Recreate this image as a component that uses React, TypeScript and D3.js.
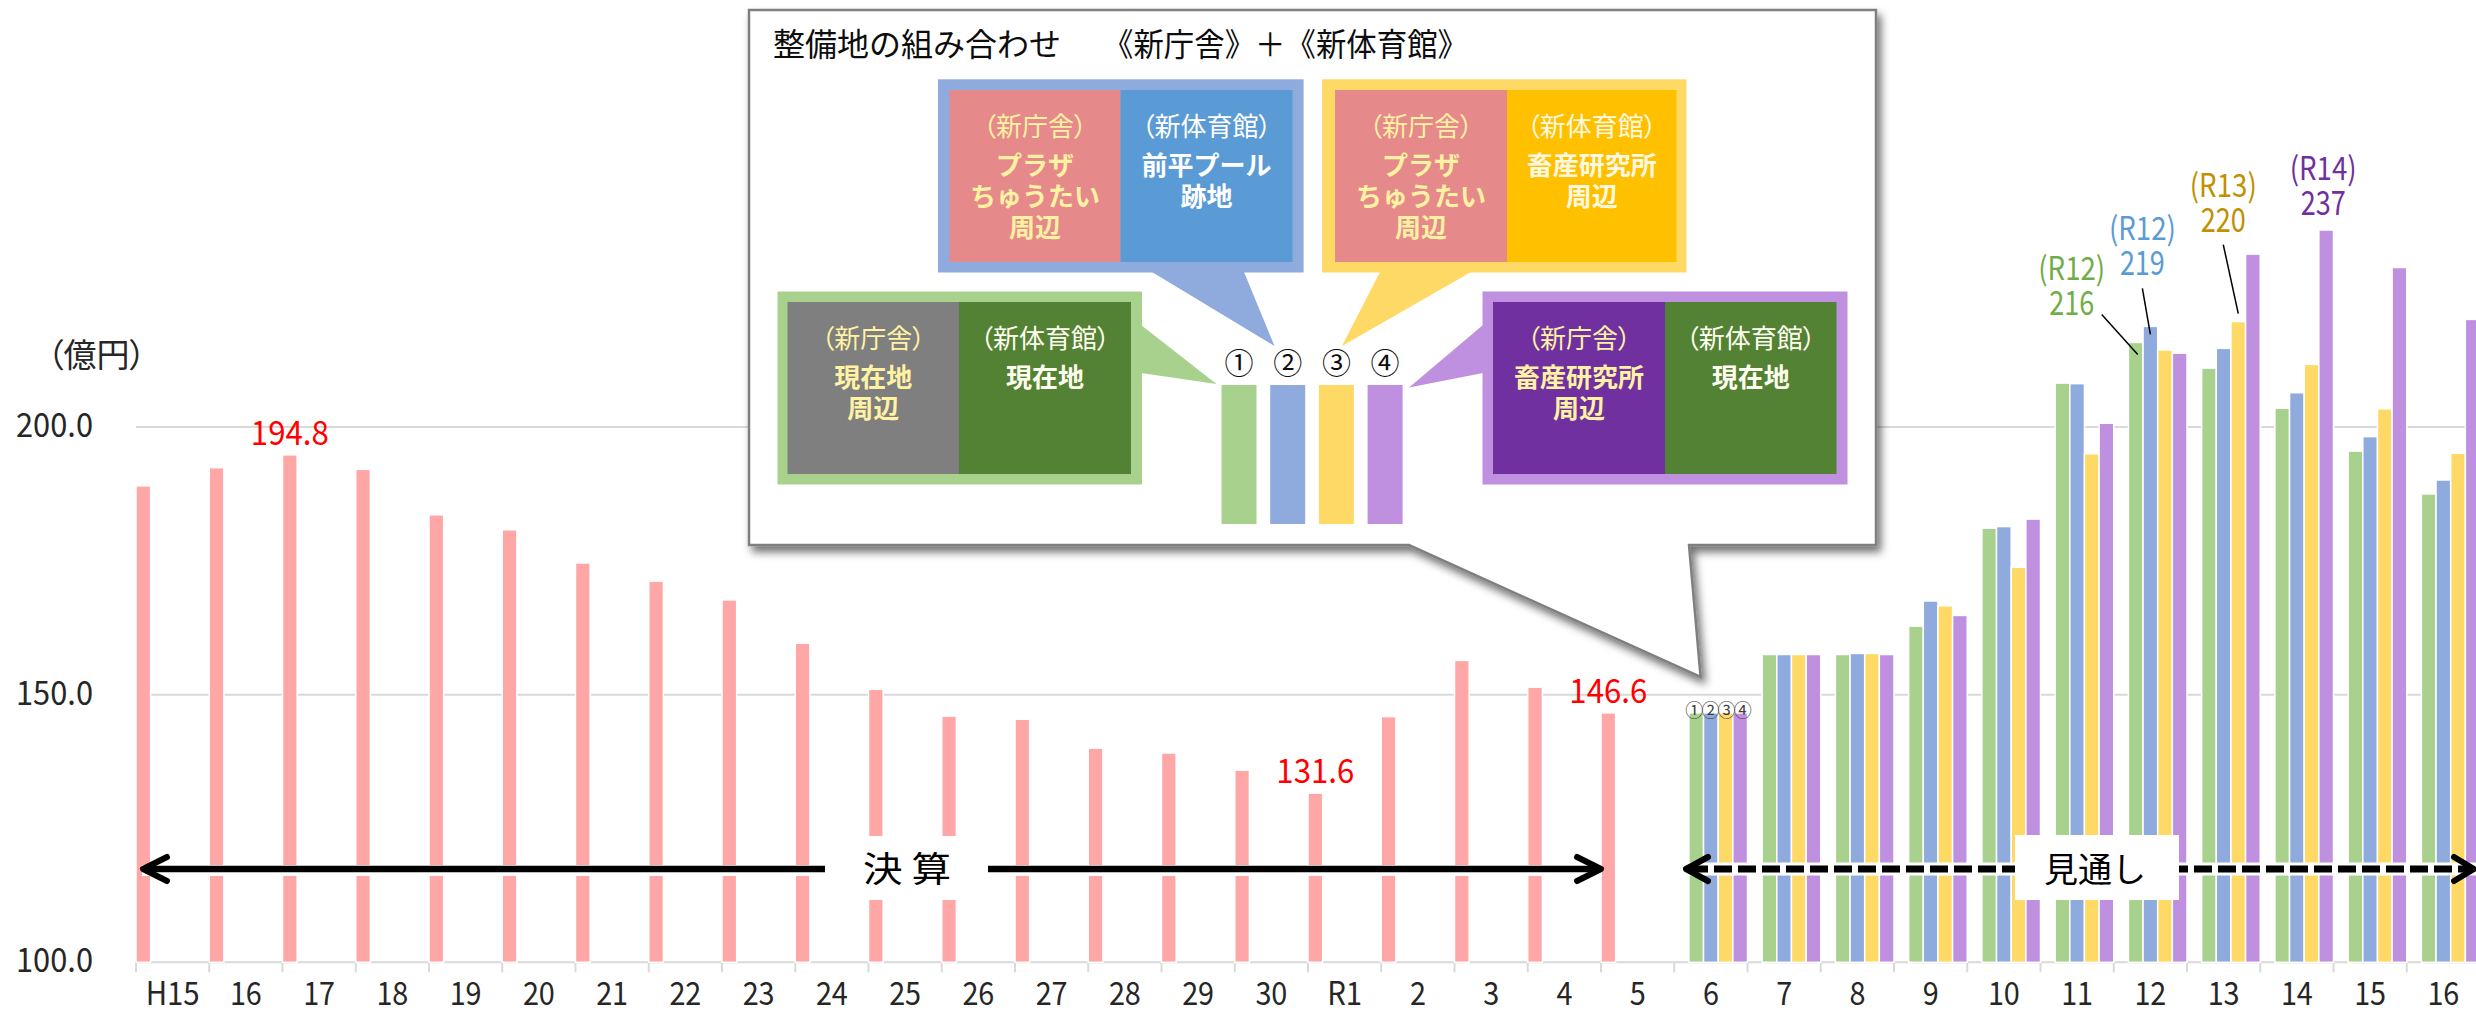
import React from "react";
import * as d3 from "d3";

// 年度（H16 と R16 が両方 "16" なのでキーは別に持つ）
const years = [
	"H15", "H16", "H17", "H18", "H19", "H20", "H21", "H22", "H23", "H24", "H25", "H26", "H27", "H28", "H29", "H30",
	"R1", "R2", "R3", "R4", "R5", "R6", "R7", "R8", "R9", "R10", "R11", "R12", "R13", "R14", "R15", "R16",
];
const tickLabels = [
	"H15", "16", "17", "18", "19", "20", "21", "22", "23", "24", "25", "26", "27", "28", "29", "30",
	"R1", "2", "3", "4", "5", "6", "7", "8", "9", "10", "11", "12", "13", "14", "15", "16",
];

// 決算 H15〜R5
const actualYears = years.slice(0, 21);
const actual = [189.0, 192.4, 194.8, 192.1, 183.6, 180.8, 174.6, 171.2, 167.7, 159.6, 151.0, 146.0, 145.4, 140.0, 139.1, 135.9, 131.6, 145.9, 156.4, 151.4, 146.6];

// 見通し R6〜R16（整備地の組み合わせ ①〜④）
const forecastYears = years.slice(21);
const plan1 = [146.6, 157.5, 157.5, 162.8, 181.1, 208.2, 215.8, 211.0, 203.5, 195.5, 187.5];
const plan2 = [146.6, 157.5, 157.7, 167.5, 181.4, 208.1, 218.8, 214.7, 206.4, 198.2, 190.1];
const plan3 = [146.6, 157.5, 157.7, 166.6, 173.8, 195.0, 214.4, 219.7, 211.7, 203.4, 195.1];
const plan4 = [146.6, 157.5, 157.5, 164.8, 182.8, 200.7, 213.8, 232.3, 236.8, 229.8, 220.1];

const yTicks = [100, 150, 200];
const seriesKeys = ["actual", "p1", "p2", "p3", "p4"];
const planColors = ["#A9D18E", "#8FAADC", "#FFD966", "#BF90DF"];
const actualColor = "#FFA6A6";

const actualNotes = [
	{year: "H17", text: "194.8"},
	{year: "R1", text: "131.6"},
	{year: "R5", text: "146.6"},
];
const peakNotes = [
	{plan: 0, year: "R12", head: "(R12)", text: "216", color: "#70AD47"},
	{plan: 1, year: "R12", head: "(R12)", text: "219", color: "#5B9BD5"},
	{plan: 2, year: "R13", head: "(R13)", text: "220", color: "#BF9000"},
	{plan: 3, year: "R14", head: "(R14)", text: "237", color: "#7030A0"},
];

const JP = "'Noto Sans CJK JP', 'Noto Sans', sans-serif";
const palt = {fontFeatureSettings: '"palt"'};

const tickWidth = (s: string) =>
	s.split("").reduce((a, c) => a + (c === "H" ? 22 : c === "R" ? 19 : 16), 0);

const Cell = ({x, w, y, fill, head, lines, headColor, color}: any) => {
	const cx = x + w / 2;
	return (
		<g fontFamily={JP} textAnchor="middle">
			<rect x={x} y={y} width={w} height={172} fill={fill} />
			<text x={cx} y={y + 46} fontSize={26} fill={headColor} style={palt}>{head}</text>
			{lines.map((l: string, i: number) => (
				<text key={i} x={cx} y={y + 85 + i * 31} fontSize={26} fontWeight="bold" fill={color}>{l}</text>
			))}
		</g>
	);
};

const App: React.FC = () => {
	const x = d3.scaleBand<string>().domain(years).range([136, 2480]).paddingInner(0).paddingOuter(0);
	const slot = d3.scaleBand<string>().domain(seriesKeys).range([0, x.bandwidth()]);
	const y = d3.scaleLinear().domain([100, 200]).range([962.3, 427]);
	const plans = [plan1, plan2, plan3, plan4];
	const bw = slot.bandwidth();
	const barCx = (year: string, key: string) => (x(year) || 0) + (slot(key) || 0) + bw / 2;

	const peakLayout = [
		{dx: -64, dy: -27, lead: [[-34, -28], [2, 12]]},
		{dx: -8, dy: -51, lead: [[-8, -38], [0, 8]]},
		{dx: -15, dy: -90, lead: [[-15, -77], [0, -8]]},
		{dx: -3, dy: -15, lead: null},
	];

	return (
		<svg width={2476} height={1010} style={{position: "absolute", left: 0, top: 0, background: "#fff"}} fontFamily={JP}>
			<defs>
				<filter id="shadow" x="-5%" y="-5%" width="115%" height="120%">
					<feDropShadow dx={4} dy={6} stdDeviation={4} floodColor="#000" floodOpacity={0.55} />
				</filter>
			</defs>

			{/* grid & axis */}
			{yTicks.map((t) => (
				<g key={t}>
					<line x1={136} x2={2480} y1={y(t)} y2={y(t)} stroke="#D9D9D9" strokeWidth={2} />
					<text x={93} y={y(t) + 10} fontSize={33} fill="#262626" textAnchor="end" textLength={77} lengthAdjust="spacingAndGlyphs">
						{t.toFixed(1)}
					</text>
				</g>
			))}
			<text x={47} y={367} fontSize={33} fill="#262626" style={palt}>（億円）</text>
			{d3.range(years.length + 1).map((i) => {
				const xx = 136 + i * x.bandwidth();
				return <line key={i} x1={xx} x2={xx} y1={y(100)} y2={y(100) + 10} stroke="#D9D9D9" strokeWidth={2} />;
			})}
			{years.map((yr, i) => (
				<text key={yr} x={(x(yr) || 0) + x.bandwidth() / 2} y={1005} fontSize={32} fill="#262626" textAnchor="middle"
					textLength={tickWidth(tickLabels[i])} lengthAdjust="spacingAndGlyphs">
					{tickLabels[i]}
				</text>
			))}

			{/* bars */}
			{actualYears.map((yr, i) => (
				<rect key={yr} x={(x(yr) || 0) + (slot("actual") || 0)} width={bw} y={y(actual[i])} height={y(100) - y(actual[i])}
					fill={actualColor} stroke="#fff" strokeWidth={1.5} />
			))}
			{plans.map((vals, p) => (
				<g key={p}>
					{forecastYears.map((yr, i) => (
						<rect key={yr} x={(x(yr) || 0) + (slot(seriesKeys[p + 1]) || 0)} width={bw} y={y(vals[i])} height={y(100) - y(vals[i])}
							fill={planColors[p]} stroke="#fff" strokeWidth={1.5} />
					))}
				</g>
			))}

			{/* 決算 values */}
			{actualNotes.map((n) => {
				const v = actual[actualYears.indexOf(n.year)];
				return (
					<text key={n.year} x={barCx(n.year, "actual")} y={y(v) - 10} fontSize={34} fill="#FF0000" textAnchor="middle"
						textLength={78} lengthAdjust="spacingAndGlyphs">{n.text}</text>
				);
			})}

			{/* peak labels */}
			{peakNotes.map((n, k) => {
				const v = plans[n.plan][forecastYears.indexOf(n.year)];
				const cx = barCx(n.year, seriesKeys[n.plan + 1]);
				const top = y(v);
				const L = peakLayout[k];
				return (
					<g key={k} fill={n.color} textAnchor="middle">
						<text x={cx + L.dx} y={top + L.dy - 35} fontSize={32} textLength={67} lengthAdjust="spacingAndGlyphs">{n.head}</text>
						<text x={cx + L.dx} y={top + L.dy} fontSize={34} textLength={45} lengthAdjust="spacingAndGlyphs">{n.text}</text>
						{L.lead && (
							<line x1={cx + L.lead[0][0]} y1={top + L.lead[0][1]} x2={cx + L.lead[1][0]} y2={top + L.lead[1][1]} stroke="#000" strokeWidth={1.5} />
						)}
					</g>
				);
			})}

			{/* ①②③④ above R6 */}
			{["①", "②", "③", "④"].map((c, p) => (
				<text key={c} x={barCx("R6", seriesKeys[p + 1]) - 2 + p * 1.5} y={717} fontSize={18} fill="#404040" textAnchor="middle">{c}</text>
			))}

			{/* 決算 arrow */}
			<line x1={142} x2={1602} y1={870.5} y2={870.5} stroke="#fff" strokeWidth={11} />
			<rect x={825} y={836} width={163} height={64} fill="#fff" />
			<line x1={146} x2={825} y1={869} y2={869} stroke="#000" strokeWidth={6.5} />
			<line x1={988} x2={1598} y1={869} y2={869} stroke="#000" strokeWidth={6.5} />
			<polyline points="167,857 143,869 167,881" fill="none" stroke="#000" strokeWidth={6} strokeLinecap="round" strokeLinejoin="round" />
			<polyline points="1577,857 1601,869 1577,881" fill="none" stroke="#000" strokeWidth={6} strokeLinecap="round" strokeLinejoin="round" />
			<text x={907} y={882} fontSize={35} fill="#000" textAnchor="middle" textLength={88} lengthAdjust="spacingAndGlyphs">決 算</text>

			{/* 見通し arrow */}
			<line x1={1685} x2={2476} y1={869} y2={869} stroke="#fff" strokeWidth={13} />
			<line x1={1690} x2={2470} y1={869} y2={869} stroke="#000" strokeWidth={7} strokeDasharray="18 6" />
			<polyline points="1708,857 1686,869 1708,881" fill="none" stroke="#000" strokeWidth={6} strokeLinecap="round" strokeLinejoin="round" />
			<polyline points="2454,857 2474,869 2454,881" fill="none" stroke="#000" strokeWidth={6} strokeLinecap="round" strokeLinejoin="round" />
			<rect x={2015} y={835} width={164} height={65} fill="#fff" />
			<text x={2095} y={882} fontSize={34} fill="#000" textAnchor="middle">見通し</text>

			{/* callout */}
			<path d="M749,10 H1876 V545 H1689 L1700.6,677 L1409,545 H749 Z" fill="#fff" stroke="#7F7F7F" strokeWidth={2.5} filter="url(#shadow)" />
			<text x={773} y={56} fontSize={32} fill="#0D0D0D">整備地の組み合わせ</text>
			<text x={1103} y={56} fontSize={32} fill="#0D0D0D" textLength={365} lengthAdjust="spacingAndGlyphs">《新庁舎》＋《新体育館》</text>

			{/* wedges */}
			<polygon points="1152,272 1244,272 1274.5,346" fill={planColors[1]} />
			<polygon points="1380,272 1471,272 1342,346" fill={planColors[2]} />
			<polygon points="1141,325 1141,373 1216.5,384" fill={planColors[0]} />
			<polygon points="1483,325 1483,373 1409,387.5" fill={planColors[3]} />

			{/* box ② */}
			<rect x={938} y={79.3} width={365.6} height={193.2} fill={planColors[1]} />
			<Cell x={949.5} w={171} y={90} fill="#E6898A" head="（新庁舎）" headColor="#FFF2A3" color="#FFF2A3" lines={["プラザ", "ちゅうたい", "周辺"]} />
			<Cell x={1120.5} w={172} y={90} fill="#5B9BD5" head="（新体育館）" headColor="#FFFFFF" color="#FFFFFF" lines={["前平プール", "跡地"]} />
			{/* box ③ */}
			<rect x={1322} y={79.3} width={364.5} height={193.2} fill={planColors[2]} />
			<Cell x={1335} w={172} y={90} fill="#E6898A" head="（新庁舎）" headColor="#FFF2A3" color="#FFF2A3" lines={["プラザ", "ちゅうたい", "周辺"]} />
			<Cell x={1507} w={169.5} y={90} fill="#FFC000" head="（新体育館）" headColor="#FFF8E1" color="#FFF8E1" lines={["畜産研究所", "周辺"]} />
			{/* box ① */}
			<rect x={777.5} y={291.5} width={364.5} height={193} fill={planColors[0]} />
			<Cell x={787.5} w={171.5} y={302} fill="#7F7F7F" head="（新庁舎）" headColor="#FFF2A3" color="#FFF2A3" lines={["現在地", "周辺"]} />
			<Cell x={959} w={172} y={302} fill="#548235" head="（新体育館）" headColor="#FFFFF0" color="#FFFFF0" lines={["現在地"]} />
			{/* box ④ */}
			<rect x={1482.5} y={291.5} width={365} height={193} fill={planColors[3]} />
			<Cell x={1493} w={172} y={302} fill="#7030A0" head="（新庁舎）" headColor="#FFF2A3" color="#FFF2A3" lines={["畜産研究所", "周辺"]} />
			<Cell x={1665} w={171.5} y={302} fill="#548235" head="（新体育館）" headColor="#FFFFF0" color="#FFFFF0" lines={["現在地"]} />

			{/* legend swatches */}
			{["①", "②", "③", "④"].map((c, p) => {
				const lx = 1221.5 + p * 48.7;
				return (
					<g key={c}>
						<text x={lx + 17.5} y={374} fontSize={29} fill="#0D0D0D" textAnchor="middle">{c}</text>
						<rect x={lx} y={385} width={35} height={139} fill={planColors[p]} />
					</g>
				);
			})}
		</svg>
	);
};

export default App;
